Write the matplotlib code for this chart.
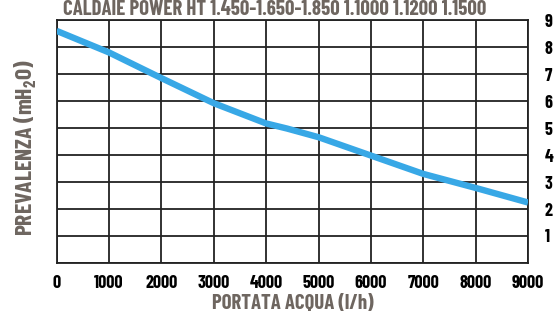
import numpy as np
import matplotlib
matplotlib.use("Agg")
import matplotlib.pyplot as plt

# pump curve
portata = [0, 1000, 2000, 3000, 4000, 4400, 5000, 6000, 7000, 8000, 9000]
prevalenza = [8.6, 7.8, 6.85, 5.92, 5.17, 4.98, 4.66, 3.98, 3.3, 2.78, 2.24]

x_ticks = [0, 1000, 2000, 3000, 4000, 5000, 6000, 7000, 8000, 9000]
y_ticks = [1, 2, 3, 4, 5, 6, 7, 8, 9]

title = "CALDAIE POWER HT 1.450-1.650-1.850 1.1000 1.1200 1.1500"
gray = "#6e6660"
blue = "#38a8e6"

plt.rcParams['font.family'] = ['Barlow Condensed', 'DejaVu Sans']
plt.rcParams['font.weight'] = 'bold'
plt.rcParams['mathtext.fontset'] = 'custom'
plt.rcParams['mathtext.rm'] = 'Barlow Condensed:bold'

fig = plt.figure(figsize=(5.6, 3.34), dpi=100)
ax = fig.add_axes([0.101, 0.2126, 0.842, 0.7274])

ax.plot(portata, prevalenza, color=blue, lw=4.6, solid_capstyle='butt', zorder=3)

ax.set_xlim(0, 9000)
ax.set_ylim(0, 9)
ax.set_xticks(x_ticks)
ax.set_yticks(range(0, 10))
ax.set_yticklabels([''] + [str(v) for v in y_ticks])
ax.yaxis.tick_right()
ax.grid(True, color='#222222', lw=1.3)
ax.set_axisbelow(True)
for s in ax.spines.values():
    s.set_color('#222222')
    s.set_linewidth(1.3)
ax.tick_params(length=0, labelsize=13, colors='black')
ax.tick_params(axis='x', pad=9)
ax.tick_params(axis='y', pad=12)

ax.set_xlabel('PORTATA ACQUA (l/h)', fontsize=15, color=gray,
              fontweight='bold', labelpad=1)
fig.text(0.046, 0.557, 'PREVALENZA (mH$_\\mathrm{2}$O)', rotation=90,
         fontsize=17, color=gray, fontweight='bold', ha='center', va='center')

fig.text(0.49, 1 - 15 / 334, title, fontsize=15, color=gray,
         fontweight='bold', ha='center', va='baseline')

fig.savefig('out.png', dpi=100)
